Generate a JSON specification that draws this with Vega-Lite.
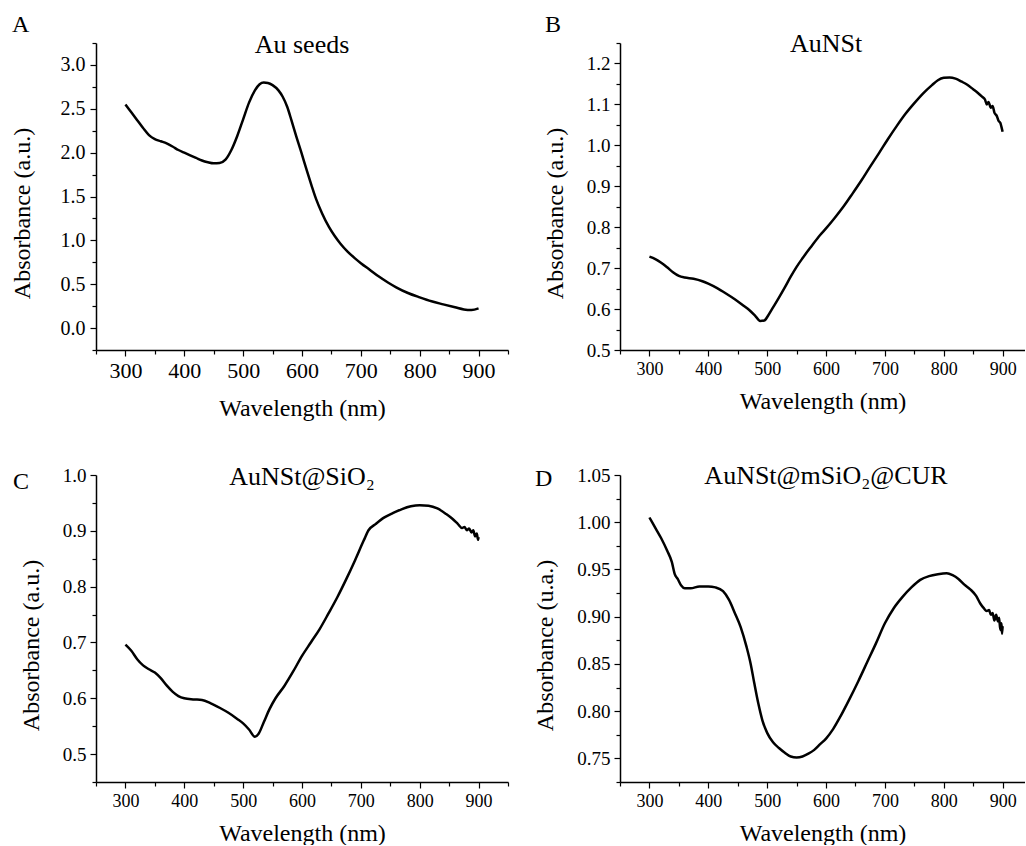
{
  "$schema": "https://vega.github.io/schema/vega-lite/v6.json",
  "padding": {"left": 10, "top": 12, "right": 0, "bottom": 0},
  "background": "white",
  "config": {
    "view": {"stroke": null},
    "font": "Liberation Serif",
    "axis": {"domainColor": "#000", "domainWidth": 1.5, "tickColor": "#000", "tickWidth": 1.2, "labelColor": "#000", "titleColor": "#000", "labelFont": "Liberation Serif", "titleFont": "Liberation Serif", "titleFontWeight": "normal", "grid": false, "labelFlush": false, "labelOverlap": false, "titleFontSize": 24, "tickSize": 6},
    "title": {"font": "Liberation Serif", "fontWeight": "normal", "fontSize": 24, "anchor": "start", "frame": "bounds", "baseline": "alphabetic", "color": "#000"}
  },
  "datasets": {
    "a": [
      {"wl":300,"abs":2.55},{"wl":310,"abs":2.46},{"wl":320,"abs":2.37},{"wl":330,"abs":2.28},{"wl":340,"abs":2.20},{"wl":350,"abs":2.155},{"wl":360,"abs":2.13},{"wl":370,"abs":2.105},{"wl":380,"abs":2.07},{"wl":390,"abs":2.03},{"wl":400,"abs":2.00},{"wl":410,"abs":1.97},{"wl":420,"abs":1.94},{"wl":430,"abs":1.91},{"wl":440,"abs":1.89},{"wl":450,"abs":1.878},{"wl":460,"abs":1.882},{"wl":470,"abs":1.92},{"wl":480,"abs":2.03},{"wl":490,"abs":2.19},{"wl":500,"abs":2.38},{"wl":510,"abs":2.57},{"wl":520,"abs":2.71},{"wl":528,"abs":2.78},{"wl":535,"abs":2.80},{"wl":542,"abs":2.795},{"wl":550,"abs":2.77},{"wl":560,"abs":2.71},{"wl":567,"abs":2.64},{"wl":575,"abs":2.52},{"wl":582,"abs":2.37},{"wl":590,"abs":2.19},{"wl":599,"abs":2.00},{"wl":608,"abs":1.80},{"wl":616,"abs":1.63},{"wl":624,"abs":1.47},{"wl":634,"abs":1.31},{"wl":646,"abs":1.15},{"wl":655,"abs":1.055},{"wl":665,"abs":0.965},{"wl":677,"abs":0.875},{"wl":690,"abs":0.795},{"wl":700,"abs":0.74},{"wl":715,"abs":0.665},{"wl":730,"abs":0.59},{"wl":746,"abs":0.52},{"wl":760,"abs":0.465},{"wl":780,"abs":0.40},{"wl":800,"abs":0.35},{"wl":820,"abs":0.305},{"wl":840,"abs":0.27},{"wl":860,"abs":0.237},{"wl":875,"abs":0.213},{"wl":888,"abs":0.207},{"wl":900,"abs":0.225}
    ],
    "b": [
      {"wl":300,"abs":0.728},{"wl":310,"abs":0.722},{"wl":320,"abs":0.713},{"wl":330,"abs":0.702},{"wl":340,"abs":0.690},{"wl":350,"abs":0.681},{"wl":360,"abs":0.677},{"wl":375,"abs":0.674},{"wl":390,"abs":0.668},{"wl":400,"abs":0.662},{"wl":415,"abs":0.651},{"wl":430,"abs":0.638},{"wl":445,"abs":0.624},{"wl":460,"abs":0.608},{"wl":470,"abs":0.597},{"wl":480,"abs":0.583},{"wl":488,"abs":0.571},{"wl":495,"abs":0.572},{"wl":502,"abs":0.585},{"wl":510,"abs":0.604},{"wl":520,"abs":0.628},{"wl":530,"abs":0.653},{"wl":540,"abs":0.679},{"wl":550,"abs":0.703},{"wl":560,"abs":0.724},{"wl":575,"abs":0.753},{"wl":590,"abs":0.781},{"wl":600,"abs":0.797},{"wl":615,"abs":0.823},{"wl":630,"abs":0.851},{"wl":645,"abs":0.882},{"wl":660,"abs":0.914},{"wl":675,"abs":0.948},{"wl":690,"abs":0.981},{"wl":705,"abs":1.015},{"wl":720,"abs":1.047},{"wl":735,"abs":1.077},{"wl":750,"abs":1.103},{"wl":765,"abs":1.127},{"wl":780,"abs":1.147},{"wl":790,"abs":1.159},{"wl":800,"abs":1.165},{"wl":810,"abs":1.166},{"wl":820,"abs":1.163},{"wl":830,"abs":1.156},{"wl":840,"abs":1.148},{"wl":850,"abs":1.137},{"wl":858,"abs":1.128},{"wl":865,"abs":1.119},{"wl":870,"abs":1.112},{"wl":873,"abs":1.100},{"wl":876,"abs":1.106},{"wl":880,"abs":1.092},{"wl":883,"abs":1.096},{"wl":886,"abs":1.080},{"wl":890,"abs":1.072},{"wl":893,"abs":1.060},{"wl":896,"abs":1.055},{"wl":898,"abs":1.045},{"wl":900,"abs":1.033}
    ],
    "c": [
      {"wl":300,"abs":0.696},{"wl":310,"abs":0.685},{"wl":320,"abs":0.670},{"wl":330,"abs":0.659},{"wl":340,"abs":0.652},{"wl":350,"abs":0.646},{"wl":360,"abs":0.636},{"wl":370,"abs":0.623},{"wl":380,"abs":0.612},{"wl":390,"abs":0.604},{"wl":400,"abs":0.600},{"wl":415,"abs":0.598},{"wl":430,"abs":0.597},{"wl":445,"abs":0.591},{"wl":460,"abs":0.583},{"wl":475,"abs":0.574},{"wl":490,"abs":0.563},{"wl":500,"abs":0.555},{"wl":510,"abs":0.544},{"wl":520,"abs":0.531},{"wl":526,"abs":0.536},{"wl":535,"abs":0.557},{"wl":545,"abs":0.581},{"wl":555,"abs":0.600},{"wl":570,"abs":0.622},{"wl":585,"abs":0.648},{"wl":600,"abs":0.676},{"wl":615,"abs":0.700},{"wl":630,"abs":0.724},{"wl":645,"abs":0.752},{"wl":660,"abs":0.781},{"wl":675,"abs":0.813},{"wl":690,"abs":0.847},{"wl":705,"abs":0.883},{"wl":713,"abs":0.901},{"wl":725,"abs":0.912},{"wl":740,"abs":0.924},{"wl":755,"abs":0.932},{"wl":770,"abs":0.939},{"wl":785,"abs":0.944},{"wl":800,"abs":0.946},{"wl":815,"abs":0.945},{"wl":830,"abs":0.940},{"wl":845,"abs":0.930},{"wl":855,"abs":0.922},{"wl":865,"abs":0.912},{"wl":872,"abs":0.905},{"wl":876,"abs":0.907},{"wl":880,"abs":0.901},{"wl":884,"abs":0.904},{"wl":888,"abs":0.897},{"wl":891,"abs":0.901},{"wl":894,"abs":0.890},{"wl":897,"abs":0.895},{"wl":899,"abs":0.884},{"wl":900,"abs":0.889}
    ],
    "d": [
      {"wl":300,"abs":1.005},{"wl":310,"abs":0.994},{"wl":320,"abs":0.983},{"wl":330,"abs":0.970},{"wl":338,"abs":0.958},{"wl":343,"abs":0.945},{"wl":348,"abs":0.940},{"wl":354,"abs":0.933},{"wl":360,"abs":0.930},{"wl":370,"abs":0.930},{"wl":385,"abs":0.932},{"wl":400,"abs":0.932},{"wl":412,"abs":0.931},{"wl":425,"abs":0.927},{"wl":435,"abs":0.918},{"wl":445,"abs":0.904},{"wl":455,"abs":0.889},{"wl":465,"abs":0.868},{"wl":472,"abs":0.850},{"wl":478,"abs":0.830},{"wl":485,"abs":0.808},{"wl":492,"abs":0.790},{"wl":500,"abs":0.777},{"wl":510,"abs":0.767},{"wl":520,"abs":0.761},{"wl":530,"abs":0.756},{"wl":540,"abs":0.752},{"wl":550,"abs":0.751},{"wl":560,"abs":0.752},{"wl":570,"abs":0.755},{"wl":580,"abs":0.759},{"wl":590,"abs":0.765},{"wl":600,"abs":0.771},{"wl":612,"abs":0.781},{"wl":625,"abs":0.795},{"wl":640,"abs":0.813},{"wl":655,"abs":0.832},{"wl":670,"abs":0.852},{"wl":685,"abs":0.872},{"wl":700,"abs":0.893},{"wl":715,"abs":0.909},{"wl":730,"abs":0.921},{"wl":745,"abs":0.931},{"wl":760,"abs":0.939},{"wl":775,"abs":0.943},{"wl":790,"abs":0.945},{"wl":805,"abs":0.946},{"wl":815,"abs":0.944},{"wl":825,"abs":0.940},{"wl":835,"abs":0.934},{"wl":845,"abs":0.929},{"wl":855,"abs":0.922},{"wl":862,"abs":0.914},{"wl":868,"abs":0.909},{"wl":873,"abs":0.906},{"wl":877,"abs":0.907},{"wl":880,"abs":0.902},{"wl":883,"abs":0.904},{"wl":886,"abs":0.896},{"wl":889,"abs":0.902},{"wl":892,"abs":0.895},{"wl":894,"abs":0.899},{"wl":896,"abs":0.886},{"wl":898,"abs":0.893},{"wl":899,"abs":0.882},{"wl":900,"abs":0.890}
    ]
  },
  "columns": 2,
  "spacing": {"row": 125, "column": 112},
  "bounds": "flush",
  "concat": [
    {
      "width": 412, "height": 307,
      "title": {"text": "A", "offset": -5.5, "dx": 2},
      "resolve": {"axis": {"x": "independent", "y": "independent"}},
      "layer": [
        {
          "data": {"name": "a"},
          "mark": {"type": "line", "color": "#000", "strokeWidth": 2.5, "interpolate": "monotone"},
          "encoding": {
            "x": {"field": "wl", "type": "quantitative", "scale": {"domain": [250, 950], "nice": false, "zero": false},
              "axis": {"orient": "bottom", "title": "Wavelength (nm)", "values": [300,400,500,600,700,800,900], "format": "d", "labelFontSize": 22, "labelPadding": 4, "titleY": 65, "titleBaseline": "alphabetic"}},
            "y": {"field": "abs", "type": "quantitative", "scale": {"domain": [-0.25, 3.25], "nice": false, "zero": false},
              "axis": {"orient": "left", "title": "Absorbance (a.u.)", "values": [0,0.5,1,1.5,2,2.5,3], "format": ".1f", "labelFontSize": 20, "labelPadding": 5, "titleX": -67, "titleY": 170, "titleBaseline": "alphabetic"}}
          }
        },
        {
          "data": {"values": [{"t": "Au seeds"}]},
          "mark": {"type": "text", "font": "Liberation Serif", "fontSize": 26, "baseline": "alphabetic", "align": "center", "color": "#000"},
          "encoding": {
            "x": {"datum": 600, "axis": {"orient": "bottom", "title": null, "values": [250,350,450,550,650,750,850,950], "labels": false, "domain": false, "tickSize": 4}},
            "y": {"datum": 3.136, "axis": {"orient": "left", "title": null, "values": [-0.25,0.25,0.75,1.25,1.75,2.25,2.75,3.25], "labels": false, "domain": false, "tickSize": 4}},
            "text": {"field": "t"}
          }
        }
      ]
    },
    {
      "width": 405, "height": 307,
      "title": {"text": "B", "offset": -5.5, "dx": 2},
      "resolve": {"axis": {"x": "independent", "y": "independent"}},
      "layer": [
        {
          "data": {"name": "b"},
          "mark": {"type": "line", "color": "#000", "strokeWidth": 2.5, "interpolate": "monotone"},
          "encoding": {
            "x": {"field": "wl", "type": "quantitative", "scale": {"domain": [250, 938], "nice": false, "zero": false},
              "axis": {"orient": "bottom", "title": "Wavelength (nm)", "values": [300,400,500,600,700,800,900], "format": "d", "labelFontSize": 18, "labelPadding": 4, "titleY": 58, "titleBaseline": "alphabetic"}},
            "y": {"field": "abs", "type": "quantitative", "scale": {"domain": [0.5, 1.25], "nice": false, "zero": false},
              "axis": {"orient": "left", "title": "Absorbance (a.u.)", "values": [0.5,0.6,0.7,0.8,0.9,1.0,1.1,1.2], "format": ".1f", "labelFontSize": 19, "labelPadding": 4, "titleX": -58, "titleY": 170, "titleBaseline": "alphabetic"}}
          }
        },
        {
          "data": {"values": [{"t": "AuNSt"}]},
          "mark": {"type": "text", "font": "Liberation Serif", "fontSize": 26, "baseline": "alphabetic", "align": "center", "color": "#000"},
          "encoding": {
            "x": {"datum": 600, "axis": {"orient": "bottom", "title": null, "values": [250,350,450,550,650,750,850], "labels": false, "domain": false, "tickSize": 4}},
            "y": {"datum": 1.227, "axis": {"orient": "left", "title": null, "values": [0.55,0.65,0.75,0.85,0.95,1.05,1.15,1.25], "labels": false, "domain": false, "tickSize": 4}},
            "text": {"field": "t"}
          }
        }
      ]
    },
    {
      "width": 412, "height": 307,
      "title": {"text": "C", "offset": -30, "dx": -6},
      "resolve": {"axis": {"x": "independent", "y": "independent"}},
      "layer": [
        {
          "data": {"name": "c"},
          "mark": {"type": "line", "color": "#000", "strokeWidth": 2.5, "interpolate": "monotone"},
          "encoding": {
            "x": {"field": "wl", "type": "quantitative", "scale": {"domain": [250, 950], "nice": false, "zero": false},
              "axis": {"orient": "bottom", "title": "Wavelength (nm)", "values": [300,400,500,600,700,800,900], "format": "d", "labelFontSize": 18, "labelPadding": 4.5, "titleY": 58, "titleBaseline": "alphabetic"}},
            "y": {"field": "abs", "type": "quantitative", "scale": {"domain": [0.45, 1.0], "nice": false, "zero": false},
              "axis": {"orient": "left", "title": "Absorbance (a.u.)", "values": [0.5,0.6,0.7,0.8,0.9,1.0], "format": ".1f", "labelFontSize": 19, "labelPadding": 4, "titleX": -58, "titleY": 170, "titleBaseline": "alphabetic"}}
          }
        },
        {
          "data": {"values": [{"t": "AuNSt@SiO₂"}]},
          "mark": {"type": "text", "font": "Liberation Serif", "fontSize": 26, "baseline": "alphabetic", "align": "center", "color": "#000"},
          "encoding": {
            "x": {"datum": 600, "axis": {"orient": "bottom", "title": null, "values": [250,350,450,550,650,750,850,950], "labels": false, "domain": false, "tickSize": 4}},
            "y": {"datum": 0.9826, "axis": {"orient": "left", "title": null, "values": [0.45,0.55,0.65,0.75,0.85,0.95], "labels": false, "domain": false, "tickSize": 4}},
            "text": {"field": "t"}
          }
        }
      ]
    },
    {
      "width": 405, "height": 307,
      "title": {"text": "D", "offset": -27.5, "dx": 2},
      "resolve": {"axis": {"x": "independent", "y": "independent"}},
      "layer": [
        {
          "data": {"name": "d"},
          "mark": {"type": "line", "color": "#000", "strokeWidth": 2.5, "interpolate": "monotone"},
          "encoding": {
            "x": {"field": "wl", "type": "quantitative", "scale": {"domain": [250, 938], "nice": false, "zero": false},
              "axis": {"orient": "bottom", "title": "Wavelength (nm)", "values": [300,400,500,600,700,800,900], "format": "d", "labelFontSize": 18, "labelPadding": 4.5, "titleY": 58, "titleBaseline": "alphabetic"}},
            "y": {"field": "abs", "type": "quantitative", "scale": {"domain": [0.725, 1.05], "nice": false, "zero": false},
              "axis": {"orient": "left", "title": "Absorbance (u.a.)", "values": [0.75,0.8,0.85,0.9,0.95,1.0,1.05], "format": ".2f", "labelFontSize": 19, "labelPadding": 4, "titleX": -68, "titleY": 170, "titleBaseline": "alphabetic"}}
          }
        },
        {
          "data": {"values": [{"t": "AuNSt@mSiO₂@CUR"}]},
          "mark": {"type": "text", "font": "Liberation Serif", "fontSize": 26, "baseline": "alphabetic", "align": "center", "color": "#000"},
          "encoding": {
            "x": {"datum": 600, "axis": {"orient": "bottom", "title": null, "values": [250,350,450,550,650,750,850], "labels": false, "domain": false, "tickSize": 4}},
            "y": {"datum": 1.0401, "axis": {"orient": "left", "title": null, "values": [0.725,0.775,0.825,0.875,0.925,0.975,1.025], "labels": false, "domain": false, "tickSize": 4}},
            "text": {"field": "t"}
          }
        }
      ]
    }
  ]
}
